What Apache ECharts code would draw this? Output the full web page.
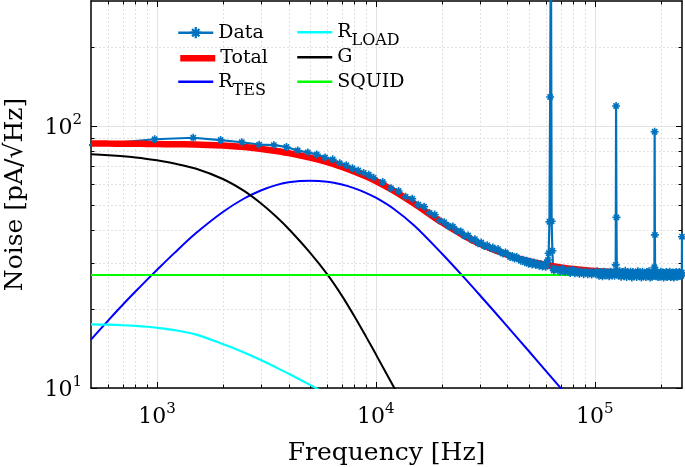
<!DOCTYPE html>
<html><head><meta charset="utf-8">
<script src="https://cdn.jsdelivr.net/npm/echarts@6/dist/echarts.min.js"></script>
<style>html,body{margin:0;padding:0;background:#fff}#c{width:685px;height:467px}</style>
</head><body><div id="c"></div><script>
// ---------- data ----------
const xMajorTicks = [1000, 10000, 100000];
const xMinorTicks = [600,700,800,900,2000,3000,4000,5000,6000,7000,8000,9000,20000,30000,40000,50000,60000,70000,80000,90000,200000];
const yMajorTicks = [10, 100];
const yMinorTicks = [20,30,40,50,60,70,80,90,200];

const modelFreq = [500,600,700,800,900,1000,1200,1500,2000,2500,3000,3500,4000,5000,6000,7000,8000,9000,10000,12000,15000,20000,25000,30000,40000,50000,60000,70000,80000,100000,150000,200000,250000];
const totalNoise = [85.75,85.66,85.63,85.55,85.45,85.34,85.12,85.02,84.2,83.09,81.69,80.28,78.82,75.72,72.84,69.86,66.97,64.23,61.61,56.74,50.45,42.87,38.35,35.47,32.19,30.46,29.48,28.85,28.44,27.95,27.44,27.25,27.17];
const rtesNoise  = [15.3,18.13,20.83,23.39,25.86,28.22,32.72,38.86,46.97,52.88,56.87,59.48,61.0,61.8,61.25,59.76,57.8,55.6,53.24,48.42,41.6,32.6,26.66,22.49,17.12,13.81,11.57,9.97,8.76,null,null,null,null];
const rloadNoise = [17.5,17.44,17.36,17.25,17.13,16.98,16.64,16.02,14.72,13.67,12.76,11.98,11.33,10.28,9.46,null,null,null,null,null,null,null,null,null,null,null,null,null,null,null,null,null,null];
const gNoise     = [78.0,77.3,76.6,75.8,74.9,73.95,71.9,68.8,62.75,56.5,50.47,45.1,40.43,32.86,27.13,22.47,18.7,15.74,13.44,10.18,7.2,null,null,null,null,null,null,null,null,null,null,null,null];
const squidFreq  = [500, 250000];
const squidNoise = [27.0, 27.0];

const dataFreq = [488,977,1465,1953,2441,2930,3418,3906,4395,4883,5371,5859,6348,6836,7324,7813,8301,8789,9277,9766,
10742,11719,12695,13672,14648,15625,16602,17578,18555,19531,20508,21484,22461,23438,24414,25391,26367,27344,28320,29297,
30273,31250,32227,33203,34180,35156,36133,37109,38086,39063,40039,41016,41992,42969,43945,44922,45898,46875,47852,48828,
49805,50781,51758,52734,53711,54688,55664,56641,57617,58594,
59570,60059,60547,61035,61523,62012,62500,62988,63477,63965,64453,64941,65430,
67383,69336,71289,73242,75195,77148,79102,81055,83008,84961,86914,88867,90820,92773,94727,96680,98633,
100586,102539,104492,106445,108398,110352,112305,114258,116211,118164,120117,122070,123047,
124023,124512,125000,125488,125977,
127930,129883,131836,133789,135742,137695,139648,141602,143555,145508,147461,149414,151367,153320,155273,157227,159180,161133,163086,165039,166992,168945,170898,172852,174805,176758,178711,180664,182617,184570,186035,
187012,187500,187988,188477,
190430,192383,194336,196289,198242,200195,202148,204102,206055,208008,209961,211914,213867,215820,217773,219727,221680,223633,225586,227539,229492,231445,233398,235352,237305,239258,241211,243164,245117,247070,
248535,249512,250000];
const dataNoise = [84.5,89.0,90.2,88.4,86.7,84.9,84.5,83.2,80.6,79.3,77.9,75.8,74.6,72.1,70.8,69.0,67.6,66.2,65.2,63.4,
61.1,57.9,56.5,53.7,52.8,50.1,49.2,46.6,45.9,43.6,42.9,41.5,41.3,39.8,39.6,38.1,38.2,36.8,37.0,35.7,
35.9,34.8,35.1,34.2,34.4,33.6,33.9,33.0,32.6,32.9,32.3,31.6,31.9,31.2,31.6,31.0,30.6,30.9,30.2,30.6,
29.8,30.3,29.6,30.1,29.5,29.9,29.3,29.7,29.1,29.5,
29.0,29.6,30.2,30.8,32.7,43.1,129,600,43.3,33.4,28.6,28.1,28.4,
28.6,27.8,28.5,27.7,28.3,27.5,28.2,27.4,28.1,27.3,28.0,27.2,27.9,27.2,27.8,27.1,27.8,
27.3,27.9,26.8,27.7,26.7,27.8,26.9,27.6,26.7,27.8,26.9,27.6,26.8,
27.6,29.5,119.2,44.8,28.0,
26.9,27.9,26.6,27.7,26.7,28.0,26.5,27.6,26.8,27.8,26.4,27.7,26.7,27.5,26.5,27.9,26.8,27.6,26.4,27.8,26.7,27.4,26.5,27.7,26.8,27.9,26.4,27.5,26.6,27.7,26.8,
28.9,95.1,38.4,27.5,
26.7,27.7,26.5,27.5,26.6,27.8,26.8,27.6,26.4,27.4,26.7,27.7,26.5,27.5,26.8,27.8,26.5,27.4,26.7,27.6,26.4,27.5,26.8,27.7,26.6,27.4,26.7,27.7,26.8,27.5,
26.8,27.6,37.8];

// ---------- chart ----------
const FONT = 'DejaVu Serif';
const X_MIN = 500, X_MAX = 250000, Y_MIN = 10, Y_MAX = 300;
function zip(xs, ys) { const out = []; for (let i = 0; i < xs.length; i++) { if (ys[i] != null) out.push([xs[i], ys[i]]); } return out; }
function powLabel(v) { return '{b|10}{s|' + Math.round(Math.log10(v)) + '}'; }
const labelRich = {
  b: { fontFamily: FONT, fontSize: 22, color: '#000', lineHeight: 26, verticalAlign: 'bottom' },
  s: { fontFamily: FONT, fontSize: 15, color: '#000', lineHeight: 11, verticalAlign: 'top' }
};
const gridPos = { left: 91, right: 3, top: 1, bottom: 79, outerBoundsMode: 'none', containLabel: false };
const axisLineStyle = { show: true, onZero: false, lineStyle: { color: '#000', width: 1.5 } };
const majorGrid = { show: true, lineStyle: { color: '#e2e2e2', width: 1, type: 'solid' } };
const minorGrid = { show: true, lineStyle: { color: '#e2e2e2', width: 1, type: [2, 2] } };

function xAx(grid, pos, ticks, len, opts) {
  return Object.assign({
    gridIndex: grid, type: 'log', logBase: 10, min: X_MIN, max: X_MAX, position: pos,
    axisLine: axisLineStyle,
    axisTick: { show: true, inside: true, length: len, customValues: ticks, lineStyle: { color: '#000', width: 1 } },
    axisLabel: { show: false },
    splitLine: { show: false }
  }, opts || {});
}
function yAx(grid, pos, ticks, len, opts) {
  return Object.assign({
    gridIndex: grid, type: 'log', logBase: 10, min: Y_MIN, max: Y_MAX, position: pos,
    axisLine: axisLineStyle,
    axisTick: { show: true, inside: true, length: len, customValues: ticks, lineStyle: { color: '#000', width: 1 } },
    axisLabel: { show: false },
    splitLine: { show: false }
  }, opts || {});
}

const legendRich = {
  m: { fontFamily: FONT, fontSize: 19, color: '#000', lineHeight: 20, verticalAlign: 'middle' },
  s: { fontFamily: FONT, fontSize: 16, color: '#000', lineHeight: 18, verticalAlign: 'bottom' },
  h: { fontFamily: FONT, fontSize: 2, color: '#000', lineHeight: 34, verticalAlign: 'middle' }
};
const legendText = { 'R_TES': '{m|R}{s|TES}{h| }', 'R_LOAD': '{m|R}{s|LOAD}{h| }' };
function leg(name, left, top, hideSymbol, lineW) {
  const l = {
    data: [name], left: left, top: top, orient: 'vertical', padding: 0, itemGap: 0,
    itemWidth: 35, itemHeight: 14, selectedMode: false,
    textStyle: { fontFamily: FONT, fontSize: 19, color: '#000', lineHeight: 20, rich: legendRich },
    formatter: function (n) { return legendText[n] || n; }
  };
  if (hideSymbol) l.itemStyle = { opacity: 0 };
  if (lineW) l.lineStyle = { width: lineW };
  return l;
}

const asterisk = 'path://M4,0L6,0L6,10L4,10Z M0,4L10,4L10,6L0,6Z M1,2.4L2.4,1L9,7.6L7.6,9Z M7.6,1L9,2.4L2.4,9L1,7.6Z';

const option = {
  animation: false,
  backgroundColor: '#fff',
  grid: [Object.assign({}, gridPos), Object.assign({}, gridPos)],
  legend: [leg('Data', 177, 22.7, false, 2.5), leg('Total', 177, 48.3, true, 6.5), leg('R_TES', 177, 64.7, true, 2.5),
           leg('R_LOAD', 296, 15.3, true, 2.5), leg('G', 296, 47.3, true, 2.5), leg('SQUID', 296, 71.7, true, 2.5)],
  xAxis: [
    xAx(0, 'bottom', xMajorTicks, 6, {
      axisLabel: { show: true, customValues: xMajorTicks, formatter: powLabel, rich: labelRich, margin: 14 },
      splitLine: majorGrid,
      name: 'Frequency [Hz]', nameLocation: 'middle', nameGap: 53,
      nameTextStyle: { fontFamily: FONT, fontSize: 25, color: '#000' }
    }),
    xAx(0, 'top', xMajorTicks, 6),
    xAx(1, 'bottom', xMinorTicks, 3.5, { axisLine: { show: false }, splitLine: minorGrid }),
    xAx(1, 'top', xMinorTicks, 3.5, { axisLine: { show: false } })
  ],
  yAxis: [
    yAx(0, 'left', yMajorTicks, 6, {
      axisLabel: { show: true, customValues: yMajorTicks, formatter: powLabel, rich: labelRich, margin: 9 },
      splitLine: majorGrid,
      name: 'Noise [pA/√Hz]', nameLocation: 'middle', nameGap: 63, nameRotate: 90,
      nameTextStyle: { fontFamily: FONT, fontSize: 25, color: '#000' }
    }),
    yAx(0, 'right', yMajorTicks, 6),
    yAx(1, 'left', yMinorTicks, 3.5, { axisLine: { show: false }, splitLine: minorGrid }),
    yAx(1, 'right', yMinorTicks, 3.5, { axisLine: { show: false } })
  ],
  series: [
    { name: 'Data', type: 'line', xAxisIndex: 0, yAxisIndex: 0, data: zip(dataFreq, dataNoise),
      symbol: asterisk, symbolSize: 8, showSymbol: true, clip: true,
      itemStyle: { color: '#0072BD' }, lineStyle: { color: '#0072BD', width: 2.2 }, emphasis: { disabled: true } },
    { name: 'Total', type: 'line', xAxisIndex: 0, yAxisIndex: 0, data: zip(modelFreq, totalNoise), smooth: 0.3,
      symbol: 'none', showSymbol: false, clip: true, itemStyle: { color: '#ff0000' }, lineStyle: { color: '#ff0000', width: 6.5 }, emphasis: { disabled: true } },
    { name: 'R_TES', type: 'line', xAxisIndex: 0, yAxisIndex: 0, data: zip(modelFreq, rtesNoise), smooth: 0.3,
      symbol: 'none', showSymbol: false, clip: true, itemStyle: { color: '#0000ff' }, lineStyle: { color: '#0000ff', width: 2 }, emphasis: { disabled: true } },
    { name: 'R_LOAD', type: 'line', xAxisIndex: 0, yAxisIndex: 0, data: zip(modelFreq, rloadNoise), smooth: 0.3,
      symbol: 'none', showSymbol: false, clip: true, itemStyle: { color: '#00ffff' }, lineStyle: { color: '#00ffff', width: 2.2 }, emphasis: { disabled: true } },
    { name: 'G', type: 'line', xAxisIndex: 0, yAxisIndex: 0, data: zip(modelFreq, gNoise), smooth: 0.3,
      symbol: 'none', showSymbol: false, clip: true, itemStyle: { color: '#000000' }, lineStyle: { color: '#000000', width: 2 }, emphasis: { disabled: true } },
    { name: 'SQUID', type: 'line', xAxisIndex: 0, yAxisIndex: 0, data: zip(squidFreq, squidNoise),
      symbol: 'none', showSymbol: false, clip: true, itemStyle: { color: '#00ff00' }, lineStyle: { color: '#00ff00', width: 2.2 }, emphasis: { disabled: true } }
  ]
};
const chart = echarts.init(document.getElementById('c'));
chart.setOption(option);
</script></body></html>
